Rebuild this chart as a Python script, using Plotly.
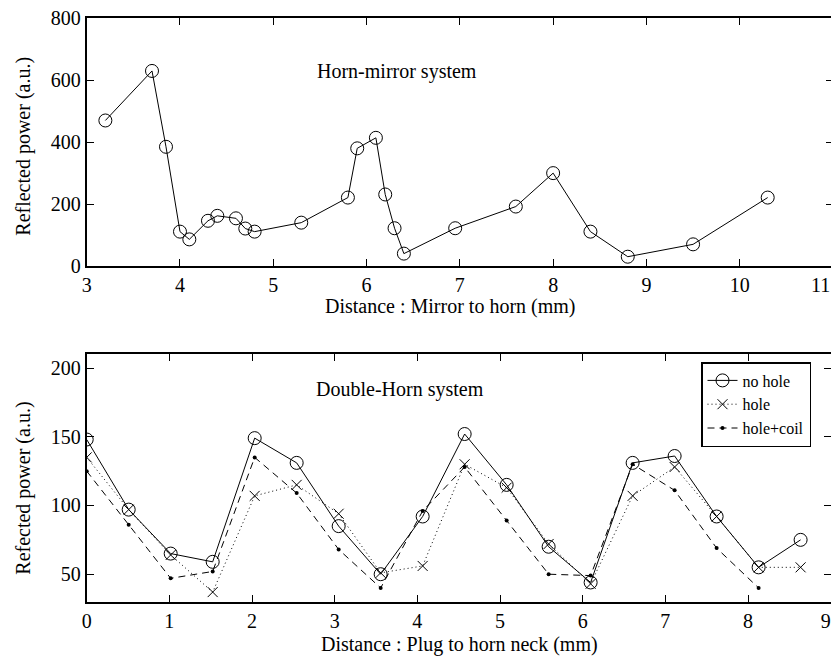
import plotly.graph_objects as go

# ---- Top panel: Horn-mirror system ----
top_x = [3.2, 3.7, 3.85, 4.0, 4.1, 4.3, 4.4, 4.6, 4.7, 4.8, 5.3, 5.8, 5.9, 6.1, 6.2, 6.3, 6.4, 6.95, 7.6, 8.0, 8.4, 8.8, 9.5, 10.3]
top_y = [470, 630, 385, 111, 86, 146, 162, 154, 121, 111, 140, 221, 380, 414, 231, 122, 40, 122, 192, 300, 111, 30, 70, 221]

# ---- Bottom panel: Double-Horn system ----
bot_x = [0.0, 0.508, 1.016, 1.524, 2.032, 2.54, 3.048, 3.556, 4.064, 4.572, 5.08, 5.588, 6.096, 6.604, 7.112, 7.62, 8.128, 8.636]
no_hole = [148, 97, 65, 59, 149, 131, 85, 50, 92, 152, 115, 70, 44, 131, 136, 92, 55, 75]
hole = [135, 97, 64, 37, 107, 115, 94, 51, 56, 130, 113, 72, 43, 107, 128, 92, 55, 55]
hole_coil = [125, 86, 47, 52, 135, 109, 68, 40, 96, 128, 89, 50, 49, 130, 111, 69, 40]

NB = "\u00a0"
top_xticks = [3, 4, 5, 6, 7, 8, 9, 10, 11]
top_xticktext = ["3", "4", "5", "6", "7", "8", "9", "10", "11" + NB * 5]
top_yticks = [0, 200, 400, 600, 800]
bot_xticks = [0, 1, 2, 3, 4, 5, 6, 7, 8, 9]
bot_xticktext = ["0", "1", "2", "3", "4", "5", "6", "7", "8", "9" + NB * 2]
bot_yticks = [50, 100, 150, 200]

FONT = "Liberation Serif"
OFF = 8  # default page body margin
W, H = 839 - OFF, 656 - OFF


def px(x):
    return (x - OFF) / W


def py(y):
    return 1 - (y - OFF) / H


fig = go.Figure()

fig.add_trace(go.Scatter(
    x=top_x, y=top_y, mode="lines+markers", showlegend=False,
    line=dict(color="black", width=1),
    marker=dict(symbol="circle-open", size=13, color="black", line=dict(width=1)),
    xaxis="x", yaxis="y"))

fig.add_trace(go.Scatter(
    x=bot_x, y=no_hole, mode="lines+markers", name="no hole",
    line=dict(color="black", width=1),
    marker=dict(symbol="circle-open", size=13, color="black", line=dict(width=1)),
    xaxis="x2", yaxis="y2"))
fig.add_trace(go.Scatter(
    x=bot_x, y=hole, mode="lines+markers", name="hole",
    line=dict(color="black", width=1, dash="1px,3px"),
    marker=dict(symbol="x-thin-open", size=10, color="black", line=dict(width=1, color="black")),
    xaxis="x2", yaxis="y2"))
fig.add_trace(go.Scatter(
    x=bot_x[:len(hole_coil)], y=hole_coil, mode="lines+markers", name="hole+coil",
    line=dict(color="black", width=1, dash="7px,5px"),
    marker=dict(symbol="circle", size=4, color="black"),
    xaxis="x2", yaxis="y2"))

axis_common = dict(
    showgrid=False, zeroline=False, showline=True, linecolor="black", linewidth=2,
    mirror="ticks", ticks="inside", ticklen=7, tickwidth=1, tickcolor="black",
    tickfont=dict(family=FONT, size=20, color="black"), automargin=False,
    ticklabeloverflow="allow",
)
xcommon = dict(axis_common, ticklabelstandoff=0)
ycommon = dict(axis_common)

ann_font = dict(family=FONT, size=20, color="black")

fig.update_layout(
    width=W, height=H,
    margin=dict(l=0, r=0, t=0, b=0),
    paper_bgcolor="white", plot_bgcolor="white",
    font=dict(family=FONT, size=20, color="black"),
    xaxis=dict(domain=[px(86.7), px(833)], range=[3, 11], tickvals=top_xticks, ticktext=top_xticktext,
               anchor="y", **xcommon),
    yaxis=dict(domain=[py(266), py(18.3)], range=[0, 800], tickvals=top_yticks, anchor="x", **ycommon),
    xaxis2=dict(domain=[px(86.7), px(830.7)], range=[0, 9], tickvals=bot_xticks, ticktext=bot_xticktext,
                anchor="y2", **xcommon),
    yaxis2=dict(domain=[py(601.7), py(354.3)], range=[30, 210], tickvals=bot_yticks, anchor="x2", **ycommon),
    legend=dict(
        x=px(701), y=py(362), xanchor="left", yanchor="top",
        bgcolor="white", bordercolor="black", borderwidth=1.5,
        font=dict(family=FONT, size=16, color="black"),
        tracegroupgap=0,
    ),
    annotations=[
        dict(text="Horn-mirror system", x=6.33, y=627, xref="x", yref="y",
             xanchor="center", yanchor="middle", showarrow=False, font=ann_font),
        dict(text="Double-Horn system", x=3.79, y=184.7, xref="x2", yref="y2",
             xanchor="center", yanchor="middle", showarrow=False, font=ann_font),
        dict(text="Distance : Mirror to horn (mm)", x=px(450.5), y=py(307), xref="paper", yref="paper",
             xanchor="center", yanchor="middle", showarrow=False, font=ann_font),
        dict(text="Distance : Plug to horn neck (mm)", x=px(459.5), y=py(644), xref="paper", yref="paper",
             xanchor="center", yanchor="middle", showarrow=False, font=ann_font),
        dict(text="Reflected power (a.u.)", x=px(22.7), y=py(146), xref="paper", yref="paper",
             xanchor="center", yanchor="middle", showarrow=False, textangle=-90, font=ann_font),
        dict(text="Refected power (a.u.)", x=px(22.7), y=py(488), xref="paper", yref="paper",
             xanchor="center", yanchor="middle", showarrow=False, textangle=-90, font=ann_font),
    ],
)

fig.write_html("out.html")
